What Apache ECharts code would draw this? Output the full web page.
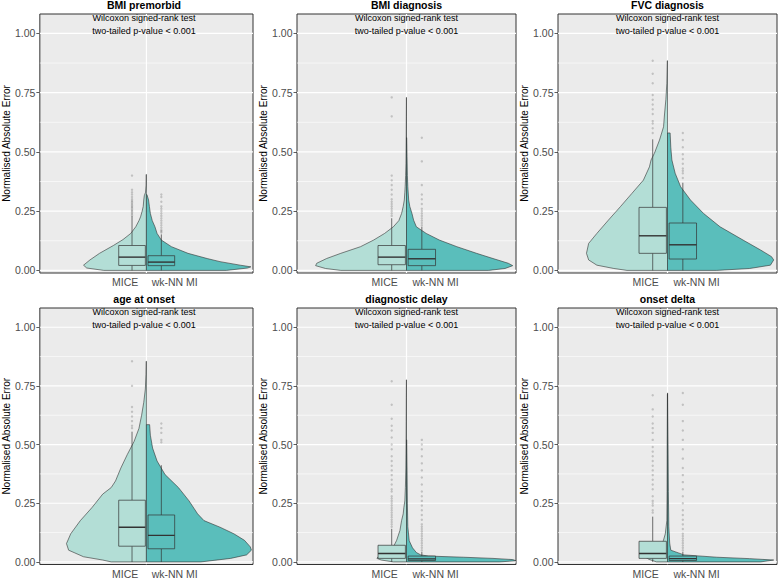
<!DOCTYPE html>
<html><head><meta charset="utf-8">
<script src="https://cdn.jsdelivr.net/npm/echarts@6/dist/echarts.min.js"></script>
<style>html,body{margin:0;padding:0;background:#fff}#c{width:778px;height:579px}</style>
</head><body><div id="c"></div>
<script>
// ---------------- data ----------------
const panelTitles = ['BMI premorbid', 'BMI diagnosis', 'FVC diagnosis', 'age at onset', 'diagnostic delay', 'onset delta'];
const groups = ['MICE', 'wk-NN MI'];
const yTicks = [0, 0.25, 0.5, 0.75, 1];
const yMinor = [0.125, 0.375, 0.625, 0.875];
const annotLine1 = 'Wilcoxon signed-rank test';
const annotLine2 = 'two-tailed p-value < 0.001';
const yTitle = 'Normalised Absolute Error';

// violin half densities: [error value, relative half-width]
const densMICE1 = [[0,0.4],[0.01,0.56],[0.022,0.59],[0.044,0.53],[0.072,0.44],[0.105,0.31],[0.13,0.22],[0.156,0.147],[0.184,0.1],[0.21,0.07],[0.226,0.055],[0.25,0.04],[0.27,0.03],[0.297,0.025],[0.315,0.02],[0.33,0.008],[0.36,0.003],[0.405,0.002]];
const densWKNN1 = [[0,0.75],[0.01,0.95],[0.015,0.98],[0.022,0.88],[0.037,0.69],[0.05,0.57],[0.072,0.39],[0.1,0.235],[0.128,0.14],[0.156,0.1],[0.184,0.08],[0.21,0.055],[0.24,0.037],[0.27,0.028],[0.297,0.02],[0.32,0.005]];
const densMICE2 = [[0,0.6],[0.008,0.74],[0.02,0.83],[0.03,0.82],[0.05,0.73],[0.072,0.6],[0.1,0.42],[0.128,0.3],[0.156,0.2],[0.184,0.12],[0.21,0.07],[0.24,0.045],[0.27,0.03],[0.297,0.02],[0.33,0.015],[0.353,0.012],[0.4,0.008],[0.45,0.005],[0.55,0.003],[0.65,0.002],[0.73,0.001]];
const densWKNN2 = [[0,0.75],[0.008,0.9],[0.02,0.97],[0.03,0.93],[0.05,0.79],[0.072,0.64],[0.1,0.46],[0.128,0.3],[0.156,0.18],[0.184,0.09],[0.212,0.065],[0.24,0.05],[0.27,0.03],[0.297,0.02],[0.353,0.012],[0.4,0.008],[0.48,0.005],[0.56,0.002]];
const densMICE3 = [[0,0.37],[0.008,0.49],[0.022,0.645],[0.044,0.72],[0.072,0.74],[0.114,0.72],[0.156,0.645],[0.212,0.54],[0.269,0.43],[0.325,0.325],[0.381,0.22],[0.437,0.165],[0.466,0.15],[0.494,0.12],[0.55,0.073],[0.606,0.036],[0.66,0.027],[0.72,0.015],[0.79,0.006],[0.885,0.002]];
const densWKNN3 = [[0,0.45],[0.008,0.75],[0.022,0.94],[0.044,0.97],[0.058,0.95],[0.086,0.85],[0.128,0.69],[0.184,0.48],[0.24,0.33],[0.297,0.21],[0.353,0.12],[0.41,0.07],[0.466,0.04],[0.52,0.03],[0.58,0.024]];
const densMICE4 = [[0,0.33],[0.008,0.41],[0.022,0.59],[0.05,0.73],[0.078,0.75],[0.12,0.71],[0.176,0.62],[0.232,0.51],[0.289,0.41],[0.317,0.33],[0.345,0.29],[0.4,0.24],[0.457,0.18],[0.513,0.116],[0.569,0.07],[0.625,0.045],[0.68,0.025],[0.737,0.01],[0.8,0.004],[0.855,0.002]];
const densWKNN4 = [[0,0.51],[0.015,0.79],[0.03,0.94],[0.05,0.985],[0.064,0.975],[0.092,0.92],[0.12,0.82],[0.148,0.69],[0.176,0.54],[0.205,0.48],[0.26,0.4],[0.317,0.3],[0.372,0.175],[0.43,0.1],[0.485,0.058],[0.54,0.037],[0.585,0.03]];
const densMICE5 = [[0,0.12],[0.008,0.23],[0.015,0.27],[0.022,0.26],[0.036,0.2],[0.064,0.12],[0.092,0.09],[0.134,0.06],[0.176,0.045],[0.205,0.03],[0.232,0.024],[0.26,0.015],[0.317,0.01],[0.4,0.006],[0.5,0.004],[0.6,0.003],[0.7,0.002],[0.776,0.001]];
const densWKNN5 = [[0,0.85],[0.005,1.0],[0.01,0.97],[0.015,0.79],[0.02,0.52],[0.025,0.2],[0.03,0.13],[0.04,0.09],[0.06,0.055],[0.09,0.025],[0.15,0.012],[0.25,0.008],[0.4,0.005],[0.52,0.002]];
const densMICE6 = [[0,0.1],[0.011,0.17],[0.02,0.2],[0.029,0.16],[0.043,0.11],[0.064,0.067],[0.092,0.037],[0.12,0.02],[0.176,0.006],[0.3,0.004],[0.5,0.003],[0.715,0.001]];
const densWKNN6 = [[0,0.85],[0.008,0.97],[0.014,0.75],[0.02,0.45],[0.03,0.15],[0.05,0.03],[0.08,0.02],[0.15,0.012],[0.3,0.008],[0.5,0.005],[0.6,0.003],[0.72,0.001]];

// boxplot stats: [lower whisker, Q1, median, Q3, upper whisker]
const boxMICE = [[0,0.021,0.056,0.105,0.229],[0,0.024,0.056,0.105,0.22],[0,0.072,0.146,0.266,0.553],[0,0.067,0.148,0.263,0.555],[0,0.015,0.036,0.071,0.141],[0,0.015,0.036,0.088,0.193]];
const boxWKNN = [[0,0.02,0.035,0.062,0.152],[0,0.02,0.049,0.089,0.184],[0,0.048,0.108,0.2,0.37],[0,0.056,0.113,0.2,0.412],[0,0.006,0.013,0.025,0.043],[0,0.006,0.014,0.025,0.043]];

// outliers
const outMICE1 = [0.232,0.238,0.244,0.25,0.256,0.262,0.268,0.274,0.28,0.287,0.293,0.30,0.31,0.32,0.33,0.34,0.40];
const outWKNN1 = [0.16,0.165,0.17,0.18,0.19,0.2,0.21,0.22,0.23,0.24,0.25,0.26,0.27,0.29,0.31,0.32];
const outMICE2 = [0.23,0.24,0.25,0.26,0.27,0.28,0.29,0.3,0.32,0.34,0.36,0.38,0.4,0.65,0.73];
const outWKNN2 = [0.19,0.2,0.21,0.22,0.23,0.24,0.25,0.26,0.28,0.3,0.32,0.36,0.46,0.56];
const outMICE3 = [0.58,0.6,0.62,0.63,0.66,0.68,0.7,0.72,0.74,0.79,0.83,0.885];
const outWKNN3 = [0.39,0.41,0.42,0.43,0.45,0.47,0.49,0.52,0.55,0.58];
const outMICE4 = [0.57,0.58,0.6,0.62,0.64,0.66,0.75,0.855];
const outWKNN4 = [0.51,0.52,0.55,0.57,0.59];
const outMICE5 = [0.15,0.16,0.17,0.18,0.19,0.2,0.21,0.22,0.23,0.24,0.25,0.26,0.27,0.28,0.3,0.31,0.33,0.35,0.37,0.39,0.41,0.43,0.45,0.48,0.5,0.53,0.56,0.58,0.61,0.67,0.77];
const outWKNN5 = [0.05,0.06,0.07,0.08,0.09,0.1,0.11,0.12,0.13,0.14,0.15,0.16,0.18,0.2,0.22,0.24,0.26,0.28,0.3,0.33,0.36,0.39,0.42,0.45,0.48,0.5,0.52];
const outMICE6 = [0.21,0.22,0.24,0.25,0.26,0.28,0.31,0.33,0.35,0.37,0.39,0.41,0.43,0.45,0.47,0.49,0.52,0.55,0.57,0.59,0.62,0.65,0.71];
const outWKNN6 = [0.05,0.06,0.07,0.08,0.09,0.1,0.11,0.12,0.14,0.16,0.18,0.2,0.22,0.25,0.28,0.31,0.34,0.37,0.4,0.44,0.48,0.52,0.56,0.6,0.67,0.72];

// ---------------- layout / style ----------------
const densMICE = [densMICE1, densMICE2, densMICE3, densMICE4, densMICE5, densMICE6];
const densWKNN = [densWKNN1, densWKNN2, densWKNN3, densWKNN4, densWKNN5, densWKNN6];
const outMICE = [outMICE1, outMICE2, outMICE3, outMICE4, outMICE5, outMICE6];
const outWKNN = [outWKNN1, outWKNN2, outWKNN3, outWKNN4, outWKNN5, outWKNN6];

const FONT = '"Liberation Sans", Arial, Helvetica, sans-serif';
const colLeft = [35, 297, 558];
const colWidth = [218, 219, 219];
const rowTop = [14, 308];
const panelH = 259;
const Y_MIN = -0.011, Y_MAX = 1.082;
const groupX = [-0.135, 0.14];
const boxHalf = 0.125;
const xLabelPos = [-0.2, 0.265];
const fillMICE = '#B3DED6';
const fillWKNN = '#5ABEBB';
const lineCol = '#333333';

const grids = [], xAxes = [], yAxes = [], series = [], graphics = [];

function violinRender(dens, sign, fill) {
  return function (params, api) {
    if (params.dataIndex !== 0) return;
    const pts = [api.coord([0, dens[0][0]])];
    dens.forEach(d => pts.push(api.coord([sign * d[1], d[0]])));
    pts.push(api.coord([0, dens[dens.length - 1][0]]));
    return { type: 'polygon', shape: { points: pts }, style: { fill: fill, stroke: lineCol, lineWidth: 0.6, lineJoin: 'round' } };
  };
}

function boxRender(params, api) {
  const x = api.value(0), lo = api.value(1), q1 = api.value(2), med = api.value(3), q3 = api.value(4), hi = api.value(5);
  const fill = params.dataIndex === 0 ? fillMICE : fillWKNN;
  const a = api.coord([x, hi]), b = api.coord([x, q3]), c = api.coord([x, q1]), d = api.coord([x, lo]);
  const tl = api.coord([x - boxHalf, q3]), br = api.coord([x + boxHalf, q1]);
  const ml = api.coord([x - boxHalf, med]), mr = api.coord([x + boxHalf, med]);
  const st = { stroke: lineCol, lineWidth: 0.7 };
  return { type: 'group', children: [
    { type: 'line', shape: { x1: a[0], y1: a[1], x2: b[0], y2: b[1] }, style: st },
    { type: 'line', shape: { x1: c[0], y1: c[1], x2: d[0], y2: d[1] }, style: st },
    { type: 'rect', shape: { x: tl[0], y: tl[1], width: br[0] - tl[0], height: br[1] - tl[1] }, style: { fill: fill, stroke: lineCol, lineWidth: 0.7 } },
    { type: 'line', shape: { x1: ml[0], y1: ml[1], x2: mr[0], y2: mr[1] }, style: { stroke: lineCol, lineWidth: 1.4 } }
  ] };
}

function gridLineRender(params, api) {
  const v = api.value(0), kind = api.value(1);
  let p1, p2;
  if (kind === 2) { p1 = api.coord([v, Y_MIN]); p2 = api.coord([v, Y_MAX]); }
  else { p1 = api.coord([-1, v]); p2 = api.coord([1, v]); }
  return { type: 'line', shape: { x1: p1[0], y1: p1[1], x2: p2[0], y2: p2[1] }, style: { stroke: '#FFFFFF', lineWidth: kind === 0 ? 0.6 : 1.2 } };
}

function xLabel(v) {
  return Math.abs(v - xLabelPos[0]) < 1e-6 ? groups[0] : groups[1];
}

for (let i = 0; i < 6; i++) {
  const r = Math.floor(i / 3), c = i % 3;
  const left = colLeft[c], top = rowTop[r], w = colWidth[c];
  grids.push({ left: left, top: top, width: w, height: panelH, show: true, backgroundColor: '#EBEBEB', borderColor: lineCol, borderWidth: 1, containLabel: false });
  xAxes.push({
    type: 'value', gridIndex: i, min: -1, max: 1, position: 'bottom',
    axisLine: { show: false, onZero: false }, axisTick: { show: false }, splitLine: { show: false },
    axisLabel: { show: true, customValues: xLabelPos, formatter: xLabel, color: '#4D4D4D', fontSize: 10.5, fontFamily: FONT, margin: 3.5, hideOverlap: false }
  });
  yAxes.push({
    type: 'value', gridIndex: i, min: Y_MIN, max: Y_MAX, position: 'left',
    axisLine: { show: false, onZero: false }, splitLine: { show: false },
    axisTick: { show: true, customValues: yTicks, length: 3.5, lineStyle: { color: lineCol, width: 0.8 } },
    axisLabel: { customValues: yTicks, formatter: v => v.toFixed(2), color: '#4D4D4D', fontSize: 10.5, fontFamily: FONT, margin: 4.5 },
    name: yTitle, nameLocation: 'middle', nameGap: 24, nameRotate: 90,
    nameTextStyle: { color: '#000', fontSize: 10, fontFamily: FONT }
  });
  const gridData = yTicks.map(v => [v, 1]).concat(yMinor.map(v => [v, 0])).concat([[0, 2]]);
  series.push({ type: 'custom', xAxisIndex: i, yAxisIndex: i, z: 1, silent: true, clip: true, renderItem: gridLineRender, data: gridData });
  series.push({ type: 'custom', name: groups[0], xAxisIndex: i, yAxisIndex: i, z: 2, silent: true, clip: true, renderItem: violinRender(densMICE[i], -1, fillMICE), data: densMICE[i].map(d => [-d[1], d[0]]) });
  series.push({ type: 'custom', name: groups[1], xAxisIndex: i, yAxisIndex: i, z: 2, silent: true, clip: true, renderItem: violinRender(densWKNN[i], 1, fillWKNN), data: densWKNN[i].map(d => [d[1], d[0]]) });
  series.push({ type: 'custom', xAxisIndex: i, yAxisIndex: i, z: 3, silent: true, clip: true, renderItem: boxRender, data: [[groupX[0]].concat(boxMICE[i]), [groupX[1]].concat(boxWKNN[i])] });
  series.push({ type: 'scatter', xAxisIndex: i, yAxisIndex: i, z: 4, silent: true, symbol: 'circle', symbolSize: 2.4, itemStyle: { color: 'rgba(60,60,60,0.3)' }, data: outMICE[i].map(v => [groupX[0], v]) });
  series.push({ type: 'scatter', xAxisIndex: i, yAxisIndex: i, z: 4, silent: true, symbol: 'circle', symbolSize: 2.4, itemStyle: { color: 'rgba(60,60,60,0.3)' }, data: outWKNN[i].map(v => [groupX[1], v]) });

  const cx = left + w / 2;
  graphics.push({ type: 'text', x: cx, y: top - 9, style: { text: panelTitles[i], fill: '#000', font: 'bold 10.5px ' + FONT, align: 'center', verticalAlign: 'middle', textAlign: 'center', textVerticalAlign: 'middle' } });
  graphics.push({ type: 'text', x: cx, y: top + 4, z: 10, style: { text: annotLine1, fill: '#000', font: '9px ' + FONT, align: 'center', verticalAlign: 'middle', textAlign: 'center', textVerticalAlign: 'middle' } });
  graphics.push({ type: 'text', x: cx, y: top + 16.7, z: 10, style: { text: annotLine2, fill: '#000', font: '9px ' + FONT, align: 'center', verticalAlign: 'middle', textAlign: 'center', textVerticalAlign: 'middle' } });
}

const chart = echarts.init(document.getElementById('c'), null, { renderer: 'svg', width: 778, height: 579 });
chart.setOption({
  animation: false,
  backgroundColor: '#FFFFFF',
  grid: grids, xAxis: xAxes, yAxis: yAxes, series: series,
  graphic: { elements: graphics }
});
</script></body></html>
